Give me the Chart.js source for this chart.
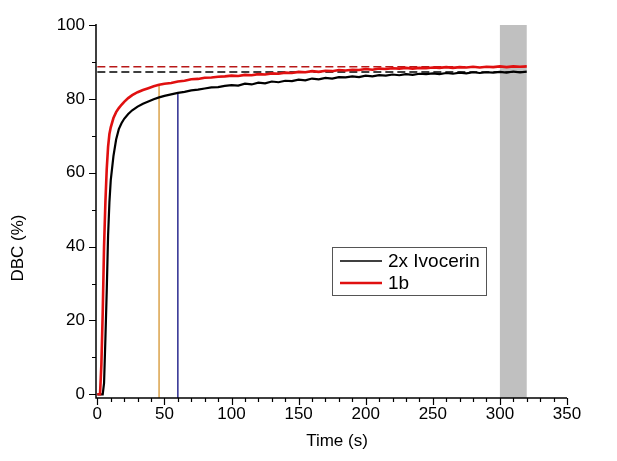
<!DOCTYPE html>
<html>
<head>
<meta charset="utf-8">
<script src="https://cdn.jsdelivr.net/npm/chart.js@4.4.1/dist/chart.umd.min.js"></script>
<style>
  html, body { margin: 0; padding: 0; background: #fff; }
  #wrap { width: 617px; height: 461px; position: relative; }
</style>
</head>
<body>
<div id="wrap"><canvas id="dbc_graph" width="617" height="461"></canvas></div>
<script>
// time axis (s), shared by both breakthrough curves
var time = [0, 1, 2, 3, 4, 5, 6, 7, 8, 9, 10, 12, 14, 16, 18, 20, 23, 26, 30, 34, 38, 42, 46, 50,
  55, 60, 65, 70, 75, 80, 85, 90, 95, 100, 105, 110, 115, 120, 125, 130, 135, 140, 145, 150,
  155, 160, 165, 170, 175, 180, 185, 190, 195, 200, 205, 210, 215, 220, 225, 230, 235, 240,
  245, 250, 255, 260, 265, 270, 275, 280, 285, 290, 295, 300, 305, 310, 315, 320];

var ivocerin = [0, 0, 0, 0, 0, 3, 15, 28, 43, 52, 58, 64.5, 69, 71.8, 73.4, 74.6, 75.9, 76.9, 77.9, 78.7, 79.3, 79.9, 80.4, 80.8,
  81.2, 81.6, 81.9, 82.3, 82.5, 82.8, 83.1, 83.2, 83.5, 83.7, 83.6, 84.1, 83.9, 84.4, 84.2, 84.7, 84.5, 84.9, 84.8, 85.2,
  85.0, 85.5, 85.3, 85.7, 85.5, 85.9, 85.8, 86.1, 85.9, 86.3, 86.1, 86.4, 86.3, 86.6, 86.4, 86.7, 86.5, 86.8,
  86.7, 86.9, 86.7, 87.0, 86.8, 87.1, 86.9, 87.2, 87.0, 87.2, 87.1, 87.3, 87.1, 87.4, 87.2, 87.4];

var oneB = [0, 0, 0, 8, 22, 40, 52, 61, 67, 70.5, 72.3, 74.8, 76.4, 77.5, 78.4, 79.2, 80.2, 81.0, 81.8, 82.4, 82.9, 83.4, 83.8, 84.1,
  84.3, 84.7, 84.9, 85.3, 85.4, 85.7, 85.8, 86.0, 86.1, 86.3, 86.2, 86.5, 86.4, 86.7, 86.6, 86.9, 86.8, 87.1, 87.0, 87.3,
  87.2, 87.5, 87.3, 87.6, 87.5, 87.8, 87.7, 87.9, 87.8, 88.1, 87.9, 88.2, 88.1, 88.3, 88.2, 88.4, 88.2, 88.4,
  88.3, 88.5, 88.4, 88.6, 88.4, 88.6, 88.5, 88.7, 88.5, 88.7, 88.6, 88.8, 88.6, 88.8, 88.7, 88.8];

var seriesNames = ['2x Ivocerin', '1b'];

// plateau levels (dashed) and the two marker times with their heights
var plateau = [87.3, 88.7];
var markerTime = [46, 60];
var markerTop = [84.0, 81.6];

// grey window at the end of the run
var windowRange = [300, 320];

var xTicks = [0, 50, 100, 150, 200, 250, 300, 350];
var yTicks = [0, 20, 40, 60, 80, 100];

var FONT = '"Liberation Sans", Arial, sans-serif';

function pts(xs, ys) {
  var out = [];
  for (var i = 0; i < xs.length; i++) out.push({x: xs[i], y: ys[i]});
  return out;
}

var decor = {
  id: 'decor',
  beforeDatasetsDraw: function(chart) {
    var ctx = chart.ctx, x = chart.scales.x, y = chart.scales.y;
    var l = x.getPixelForValue(windowRange[0]), r = x.getPixelForValue(windowRange[1]);
    var t = y.getPixelForValue(100), b = chart.chartArea.bottom;
    ctx.save();
    ctx.fillStyle = '#c0c0c0';
    ctx.fillRect(l, t, r - l, b - t);
    ctx.restore();
  },
  afterDraw: function(chart) {
    var ctx = chart.ctx, x = chart.scales.x, y = chart.scales.y, a = chart.chartArea;
    ctx.save();
    ctx.strokeStyle = '#000';
    ctx.lineWidth = 1.5;
    ctx.beginPath();
    ctx.moveTo(a.left, a.top - 1);
    ctx.lineTo(a.left, a.bottom);
    ctx.lineTo(a.right, a.bottom);
    ctx.stroke();
    ctx.lineWidth = 1.2;
    ctx.beginPath();
    for (var v = 0; v <= 350; v += 10) {
      var px = Math.round(x.getPixelForValue(v)) + 0.5;
      ctx.moveTo(px, a.bottom);
      ctx.lineTo(px, a.bottom + (v % 50 === 0 ? 7 : 4));
    }
    for (var w = 0; w <= 100; w += 10) {
      var py = Math.round(y.getPixelForValue(w)) + 0.5;
      ctx.moveTo(a.left, py);
      ctx.lineTo(a.left - (w % 20 === 0 ? 7 : 4), py);
    }
    ctx.stroke();

    // axis titles
    ctx.fillStyle = '#000';
    ctx.font = '17px ' + FONT;
    ctx.textAlign = 'center';
    ctx.textBaseline = 'middle';
    ctx.fillText('Time (s)', 337, 441);
    ctx.translate(18, 248);
    ctx.rotate(-Math.PI / 2);
    ctx.fillText('DBC (%)', 0, 0);
    ctx.setTransform(1, 0, 0, 1, 0, 0);

    // legend box
    var bx = 332, by = 247, bw = 154, bh = 48;
    ctx.fillStyle = '#fff';
    ctx.fillRect(bx, by, bw, bh);
    ctx.strokeStyle = '#555';
    ctx.lineWidth = 1;
    ctx.strokeRect(bx + 0.5, by + 0.5, bw, bh);
    var cols = ['#000000', '#e01010'];
    var widths = [1.6, 2.4];
    ctx.font = '19px ' + FONT;
    ctx.textAlign = 'left';
    ctx.textBaseline = 'middle';
    for (var i = 0; i < seriesNames.length; i++) {
      var ly = by + 14 + i * 22;
      ctx.strokeStyle = cols[i];
      ctx.lineWidth = widths[i];
      ctx.beginPath();
      ctx.moveTo(bx + 8, ly);
      ctx.lineTo(bx + 50, ly);
      ctx.stroke();
      ctx.fillStyle = '#000';
      ctx.fillText(seriesNames[i], bx + 56, ly + 1);
    }
    ctx.restore();
  }
};

var lineOpts = {pointRadius: 0, showLine: true, fill: false, tension: 0};

new Chart(document.getElementById('dbc_graph'), {
  type: 'scatter',
  data: {
    datasets: [
      Object.assign({label: seriesNames[1], data: pts(time, oneB), borderColor: '#e01010', borderWidth: 2.6}, lineOpts),
      Object.assign({label: seriesNames[0], data: pts(time, ivocerin), borderColor: '#000000', borderWidth: 2.2}, lineOpts),
      Object.assign({label: 'm1', data: [{x: markerTime[0], y: -1}, {x: markerTime[0], y: markerTop[0]}], borderColor: '#dba24a', borderWidth: 1.5}, lineOpts),
      Object.assign({label: 'm2', data: [{x: markerTime[1], y: -1}, {x: markerTime[1], y: markerTop[1]}], borderColor: '#2b2b8f', borderWidth: 1.5}, lineOpts),
      Object.assign({label: 'p1', data: [{x: 0, y: plateau[1]}, {x: 320, y: plateau[1]}], borderColor: '#b81818', borderWidth: 1.5, borderDash: [8, 4]}, lineOpts),
      Object.assign({label: 'p0', data: [{x: 0, y: plateau[0]}, {x: 320, y: plateau[0]}], borderColor: '#000000', borderWidth: 1.5, borderDash: [8, 4]}, lineOpts)
    ]
  },
  options: {
    responsive: false,
    animation: false,
    layout: {padding: {top: 25, right: 50, left: 0, bottom: 0}},
    plugins: {legend: {display: false}, tooltip: {enabled: false}},
    scales: {
      x: {
        type: 'linear', min: -1, max: 350,
        grid: {display: false, drawTicks: false},
        border: {display: false},
        afterBuildTicks: function(s) { s.ticks = xTicks.map(function(v) { return {value: v}; }); },
        afterFit: function(s) { s.height = 63; },
        ticks: {color: '#000', padding: 6, font: {family: FONT, size: 17}, maxRotation: 0}
      },
      y: {
        type: 'linear', min: -1, max: 100,
        grid: {display: false, drawTicks: false},
        border: {display: false},
        afterBuildTicks: function(s) { s.ticks = yTicks.map(function(v) { return {value: v}; }); },
        afterFit: function(s) { s.width = 96; },
        ticks: {color: '#000', padding: 11, font: {family: FONT, size: 17}}
      }
    }
  },
  plugins: [decor]
});
</script>
</body>
</html>
